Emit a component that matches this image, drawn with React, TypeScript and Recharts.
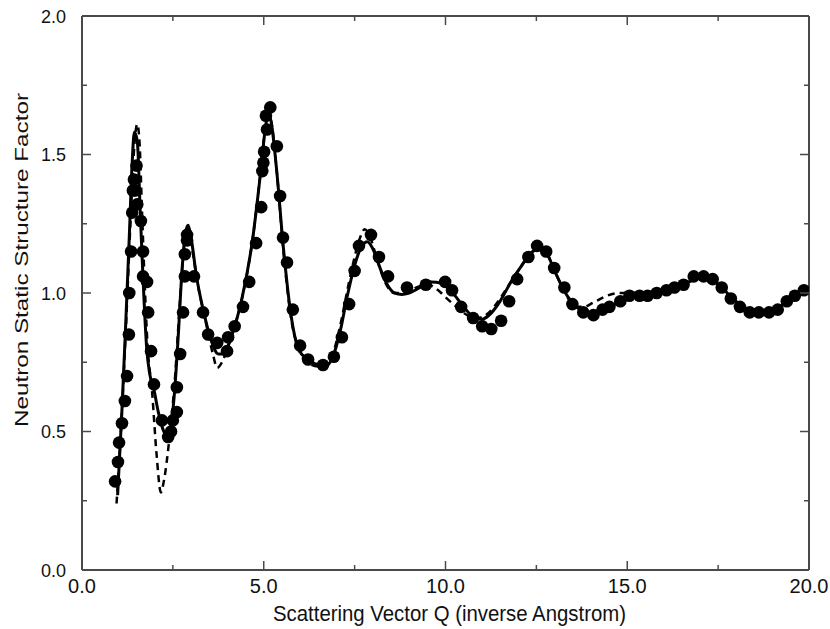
import React from 'react';
import { ComposedChart, Line, Scatter, XAxis, YAxis } from 'recharts';

const measured: [number, number][] = [
  [0.91, 0.32], [0.99, 0.39], [1.02, 0.46], [1.1, 0.53], [1.18, 0.61], [1.24, 0.7],
  [1.29, 0.85], [1.3, 1.0], [1.35, 1.15], [1.38, 1.29], [1.4, 1.37], [1.43, 1.41],
  [1.5, 1.46], [1.46, 1.37], [1.52, 1.32], [1.62, 1.26], [1.68, 1.15], [1.68, 1.06],
  [1.79, 1.04], [1.82, 0.93], [1.9, 0.79], [1.98, 0.67], [2.2, 0.54], [2.37, 0.48],
  [2.45, 0.5], [2.5, 0.54], [2.61, 0.57], [2.61, 0.66], [2.7, 0.78], [2.78, 0.93],
  [2.83, 1.06], [2.83, 1.14], [2.89, 1.19], [2.89, 1.21], [3.08, 1.06], [3.33, 0.93],
  [3.47, 0.85], [3.72, 0.82], [3.99, 0.79], [4.02, 0.84], [4.2, 0.88], [4.43, 0.95],
  [4.6, 1.04], [4.79, 1.18], [4.93, 1.31], [4.96, 1.44], [4.99, 1.47], [5.01, 1.51],
  [5.09, 1.59], [5.06, 1.64], [5.18, 1.67], [5.36, 1.53], [5.45, 1.35], [5.53, 1.2],
  [5.64, 1.11], [5.8, 0.94], [6.0, 0.81], [6.22, 0.76], [6.63, 0.74], [6.93, 0.77],
  [7.15, 0.84], [7.35, 0.96], [7.5, 1.08], [7.62, 1.17], [7.95, 1.21], [8.17, 1.13],
  [8.42, 1.06], [8.94, 1.02], [9.46, 1.03], [9.99, 1.04], [10.18, 1.01], [10.43, 0.95],
  [10.76, 0.91], [11.01, 0.88], [11.26, 0.87], [11.53, 0.9], [11.75, 0.97], [11.97, 1.05],
  [12.28, 1.13], [12.52, 1.17], [12.77, 1.15], [12.99, 1.09], [13.27, 1.02], [13.49, 0.96],
  [13.79, 0.93], [14.07, 0.92], [14.32, 0.94], [14.51, 0.95], [14.81, 0.97], [15.06, 0.99],
  [15.34, 0.99], [15.56, 0.99], [15.81, 1.0], [16.08, 1.01], [16.3, 1.02], [16.55, 1.03],
  [16.83, 1.06], [17.1, 1.06], [17.35, 1.05], [17.6, 1.02], [17.85, 0.98], [18.1, 0.95],
  [18.37, 0.93], [18.62, 0.93], [18.9, 0.93], [19.14, 0.94], [19.39, 0.97], [19.61, 0.99],
  [19.86, 1.01],
];

// model 1 (solid)
const modelA: [number, number][] = [
  [0.98, 0.27], [1.1, 0.58], [1.2, 0.88], [1.3, 1.2], [1.38, 1.47], [1.44, 1.58],
  [1.52, 1.55], [1.6, 1.3], [1.68, 1.05], [1.78, 0.8], [1.86, 0.71], [1.98, 0.65],
  [2.1, 0.57], [2.25, 0.5], [2.35, 0.48], [2.45, 0.52], [2.55, 0.65], [2.65, 0.85],
  [2.75, 1.08], [2.85, 1.22], [2.92, 1.245], [3.0, 1.2], [3.15, 1.06], [3.35, 0.93],
  [3.55, 0.83], [3.75, 0.78], [3.9, 0.78], [4.1, 0.84], [4.4, 0.98], [4.7, 1.2],
  [4.9, 1.42], [5.05, 1.6], [5.12, 1.65], [5.2, 1.62], [5.35, 1.45], [5.55, 1.15],
  [5.75, 0.92], [5.95, 0.8], [6.2, 0.76], [6.5, 0.74], [6.7, 0.735], [6.9, 0.77],
  [7.1, 0.86], [7.3, 0.99], [7.5, 1.1], [7.7, 1.17], [7.85, 1.185], [8.0, 1.16],
  [8.2, 1.09], [8.4, 1.03], [8.6, 1.0], [8.8, 0.995], [9.0, 1.0], [9.3, 1.02],
  [9.6, 1.04], [9.9, 1.035], [10.2, 1.0], [10.5, 0.95], [10.8, 0.91], [11.0, 0.905],
  [11.2, 0.92], [11.5, 0.97], [11.8, 1.04], [12.1, 1.1], [12.4, 1.15], [12.6, 1.16],
  [12.8, 1.14], [13.0, 1.08], [13.3, 1.0], [13.6, 0.95], [13.9, 0.93], [14.2, 0.935],
  [14.5, 0.95], [14.8, 0.97], [15.1, 0.99], [15.5, 0.99], [15.8, 1.0], [16.1, 1.01],
  [16.4, 1.02], [16.7, 1.04], [17.0, 1.06], [17.3, 1.05], [17.6, 1.02], [17.9, 0.98],
  [18.2, 0.95], [18.5, 0.93], [18.8, 0.93], [19.1, 0.94], [19.4, 0.97], [19.7, 0.99],
  [20.0, 1.02],
];

// model 2 (dashed)
const modelB: [number, number][] = [
  [0.95, 0.24], [1.05, 0.45], [1.2, 0.85], [1.35, 1.3], [1.45, 1.55], [1.52, 1.61],
  [1.58, 1.55], [1.65, 1.3], [1.72, 1.05], [1.8, 0.82], [1.93, 0.64], [2.05, 0.42],
  [2.17, 0.28], [2.25, 0.32], [2.4, 0.47], [2.55, 0.68], [2.7, 0.98], [2.82, 1.18],
  [2.92, 1.22], [3.0, 1.18], [3.2, 1.02], [3.4, 0.9], [3.6, 0.78], [3.72, 0.73],
  [3.85, 0.75], [4.0, 0.8], [4.2, 0.88], [4.4, 0.98], [4.7, 1.2], [4.9, 1.42],
  [5.05, 1.6], [5.13, 1.64], [5.22, 1.61], [5.35, 1.45], [5.55, 1.14], [5.75, 0.91],
  [5.95, 0.8], [6.2, 0.75], [6.5, 0.735], [6.7, 0.735], [6.9, 0.78], [7.1, 0.88],
  [7.3, 1.01], [7.5, 1.13], [7.65, 1.2], [7.78, 1.23], [7.9, 1.21], [8.1, 1.13],
  [8.3, 1.05], [8.6, 1.0], [8.9, 1.0], [9.2, 1.02], [9.5, 1.03], [9.8, 1.01],
  [10.0, 0.985], [10.3, 0.95], [10.6, 0.92], [10.9, 0.91], [11.2, 0.93], [11.5, 0.98],
  [11.8, 1.04], [12.1, 1.1], [12.4, 1.15], [12.6, 1.16], [12.8, 1.14], [13.0, 1.08],
  [13.3, 1.0], [13.55, 0.95], [13.8, 0.95], [14.06, 0.965], [14.44, 0.99], [14.8, 1.0],
  [15.2, 1.0], [15.6, 1.0], [16.0, 1.01], [16.4, 1.02], [16.7, 1.04], [17.0, 1.06],
  [17.3, 1.05], [17.6, 1.02], [17.9, 0.98], [18.2, 0.95], [18.5, 0.93], [18.8, 0.93],
  [19.1, 0.94], [19.4, 0.97], [19.7, 0.99], [20.0, 1.02],
];

const xTicks = [0, 2.5, 5, 7.5, 10, 12.5, 15, 17.5, 20];
const yTicks = [0, 0.25, 0.5, 0.75, 1, 1.25, 1.5, 1.75, 2];

const toRows = (arr: [number, number][]) => arr.map(([q, s]) => ({ q, s }));

const FONT = '"Liberation Sans", Arial, sans-serif';
const AXIS = '#4a4a4a';

const BottomTick = (props: any) => {
  const { x, y, payload } = props;
  const major = payload.value % 5 === 0;
  return (
    <g>
      <line x1={x} y1={y} x2={x} y2={y - (major ? 9 : 5)} stroke={AXIS} strokeWidth={1.5} />
      {major && (
        <text x={x} y={y + 23} textAnchor="middle" fontSize={20} fontFamily={FONT} fill="#111">
          {payload.value.toFixed(1)}
        </text>
      )}
    </g>
  );
};

const TopTick = (props: any) => {
  const { x, y, payload } = props;
  const major = payload.value % 5 === 0;
  return <line x1={x} y1={y} x2={x} y2={y + (major ? 9 : 5)} stroke={AXIS} strokeWidth={1.5} />;
};

const LeftTick = (props: any) => {
  const { x, y, payload } = props;
  const major = payload.value % 0.5 === 0;
  return (
    <g>
      <line x1={x} y1={y} x2={x + (major ? 9 : 5)} y2={y} stroke={AXIS} strokeWidth={1.5} />
      {major && (
        <text x={x - 16} y={y + 6.5} textAnchor="end" fontSize={18} fontFamily={FONT} fill="#111">
          {payload.value.toFixed(1)}
        </text>
      )}
    </g>
  );
};

const RightTick = (props: any) => {
  const { x, y, payload } = props;
  const major = payload.value % 0.5 === 0;
  return <line x1={x} y1={y} x2={x - (major ? 9 : 5)} y2={y} stroke={AXIS} strokeWidth={1.5} />;
};

const Dot = (props: any) => <circle cx={props.cx} cy={props.cy} r={6.3} fill="#000" />;

export default function App() {
  return (
    <div style={{ position: 'absolute', left: 0, top: 0, width: 830, height: 629, background: '#fff' }}>
      <ComposedChart width={830} height={629} margin={{ top: 15, right: 20, bottom: 0, left: 0 }}>
        <XAxis
          xAxisId="b"
          type="number"
          dataKey="q"
          domain={[0, 20]}
          ticks={xTicks}
          interval={0}
          height={59}
          tickSize={0}
          tickMargin={0}
          stroke={AXIS}
          strokeWidth={2}
          tick={<BottomTick />}
          allowDataOverflow
        />
        <XAxis
          xAxisId="t"
          orientation="top"
          type="number"
          dataKey="q"
          domain={[0, 20]}
          ticks={xTicks}
          interval={0}
          height={1}
          tickSize={0}
          tickMargin={0}
          stroke={AXIS}
          strokeWidth={2}
          tick={<TopTick />}
          allowDataOverflow
        />
        <YAxis
          yAxisId="l"
          type="number"
          dataKey="s"
          domain={[0, 2]}
          ticks={yTicks}
          interval={0}
          width={82}
          tickSize={0}
          tickMargin={0}
          stroke={AXIS}
          strokeWidth={2}
          tick={<LeftTick />}
          allowDataOverflow
        />
        <YAxis
          yAxisId="r"
          orientation="right"
          type="number"
          domain={[0, 2]}
          ticks={yTicks}
          interval={0}
          width={1}
          tickSize={0}
          tickMargin={0}
          stroke={AXIS}
          strokeWidth={2}
          tick={<RightTick />}
          allowDataOverflow
        />
        <Line
          xAxisId="b"
          yAxisId="l"
          data={toRows(modelB)}
          dataKey="s"
          type="monotone"
          stroke="#000"
          strokeWidth={2.5}
          strokeDasharray="7 5"
          dot={false}
          isAnimationActive={false}
        />
        <Line
          xAxisId="b"
          yAxisId="l"
          data={toRows(modelA)}
          dataKey="s"
          type="monotone"
          stroke="#000"
          strokeWidth={3}
          dot={false}
          isAnimationActive={false}
        />
        <Scatter
          xAxisId="b"
          yAxisId="l"
          data={toRows(measured)}
          dataKey="s"
          shape={<Dot />}
          isAnimationActive={false}
        />
      </ComposedChart>
      <svg width={830} height={629} style={{ position: 'absolute', left: 0, top: 0, pointerEvents: 'none' }}>
        <text x={273} y={621} fontSize={22} fontFamily={FONT} fill="#111" textLength={353} lengthAdjust="spacingAndGlyphs">
          Scattering Vector Q (inverse Angstrom)
        </text>
        <text
          transform="translate(28,427) rotate(-90)"
          x={0}
          y={0}
          fontSize={18.5}
          fontFamily={FONT}
          fill="#111"
          textLength={334}
          lengthAdjust="spacingAndGlyphs"
        >
          Neutron Static Structure Factor
        </text>
      </svg>
    </div>
  );
}
